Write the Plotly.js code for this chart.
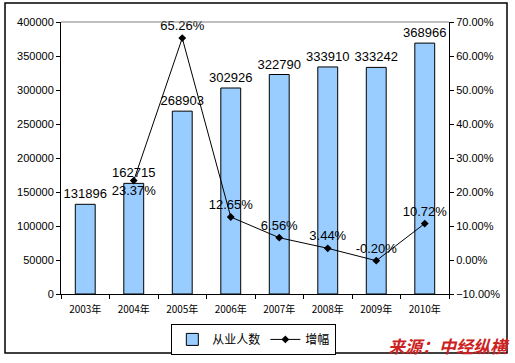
<!DOCTYPE html>
<html>
<head>
<meta charset="utf-8">
<script src="https://cdn.plot.ly/plotly-3.0.1.min.js"></script>
<style>html,body{margin:0;padding:0;background:#fff;}#chart{width:515px;height:363px;}</style>
</head>
<body>
<div id="chart"></div>
<script>
const years = ["2003年","2004年","2005年","2006年","2007年","2008年","2009年","2010年"];
const employees = [131896,162715,268903,302926,322790,333910,333242,368966];
const growthYears = ["2004年","2005年","2006年","2007年","2008年","2009年","2010年"];
const growth = [23.37,65.26,12.65,6.56,3.44,-0.20,10.72];
const growthPos = ["bottom center","top center","top center","top center","top center","top center","top center"];
const seriesNames = ["从业人数","增幅"];
const sourceText = "来源：中经纵横";

const fontFam = "Liberation Sans, Arial, Noto Sans CJK SC, sans-serif";
const cjk = "Noto Sans CJK SC, sans-serif";

const traces = [
  {
    type: "bar", x: years, y: employees, name: seriesNames[0],
    marker: {color: "#99CCFF", line: {color: "#000", width: 1}},
    width: 0.41,
    text: employees.map(String), textposition: "outside", cliponaxis: false,
    constraintext: "none",
    textfont: {family: fontFam, size: 13, color: "#000"},
    hoverinfo: "none"
  },
  {
    type: "scatter", x: growthYears, y: growth, yaxis: "y2", name: seriesNames[1],
    mode: "lines+markers+text",
    line: {color: "#000", width: 1},
    marker: {symbol: "diamond", size: 6, color: "#000"},
    text: growth.map(v => v.toFixed(2) + "%"), textposition: growthPos,
    textfont: {family: fontFam, size: 13, color: "#000"},
    cliponaxis: false, hoverinfo: "none"
  }
];

const layout = {
  width: 515, height: 363,
  margin: {l: 61, r: 66, t: 22, b: 69, autoexpand: false},
  paper_bgcolor: "#fff", plot_bgcolor: "#fff",
  showlegend: true,
  bargap: 0.59,
  font: {family: fontFam, size: 11, color: "#000"},
  xaxis: {
    type: "category", showline: true, linecolor: "#000", linewidth: 1,
    ticks: "outside", tickson: "boundaries", ticklen: 4, tickcolor: "#000",
    ticklabelstandoff: 6,
    showgrid: false, zeroline: false, automargin: false,
    tickfont: {family: cjk, size: 10, color: "#000"}
  },
  yaxis: {
    range: [0, 400000], dtick: 50000, tickformat: "d",
    showline: true, linecolor: "#000", linewidth: 1,
    ticks: "outside", ticklen: 4, tickcolor: "#000",
    showgrid: false, zeroline: false, automargin: false,
    tickfont: {family: fontFam, size: 11, color: "#000"}
  },
  yaxis2: {
    overlaying: "y", side: "right",
    range: [-10, 70], dtick: 10, tickformat: ".2f", ticksuffix: "%",
    showline: true, linecolor: "#000", linewidth: 1,
    ticks: "outside", ticklen: 4, tickcolor: "#000",
    showgrid: false, zeroline: false, automargin: false,
    tickfont: {family: fontFam, size: 11, color: "#000"}
  },
  legend: {
    orientation: "h", x: 0.497, xanchor: "center", y: -0.11, yanchor: "top",
    bordercolor: "#000", borderwidth: 1, bgcolor: "#fff",
    font: {family: cjk, size: 12, color: "#000"},
    itemwidth: 30, tracegroupgap: 0
  },
  shapes: [
    {type: "line", xref: "paper", yref: "paper", x0: 0, x1: 1, y0: 1, y1: 1, line: {color: "#808080", width: 1}},
    {type: "rect", xref: "paper", yref: "paper", x0: -0.1443, x1: 1.1495, y0: -0.2169, y1: 1.0699, line: {color: "#000", width: 1.5}, layer: "below"}
  ],
  annotations: [
    {xref: "paper", yref: "paper", x: 1.162, y: -0.19, xanchor: "right", yanchor: "middle",
     text: "<b><i>" + sourceText + "</i></b>", showarrow: false,
     font: {family: cjk, size: 17, color: "#CC2222"}}
  ]
};

Plotly.newPlot("chart", traces, layout, {staticPlot: true, displayModeBar: false});
</script>
</body>
</html>
